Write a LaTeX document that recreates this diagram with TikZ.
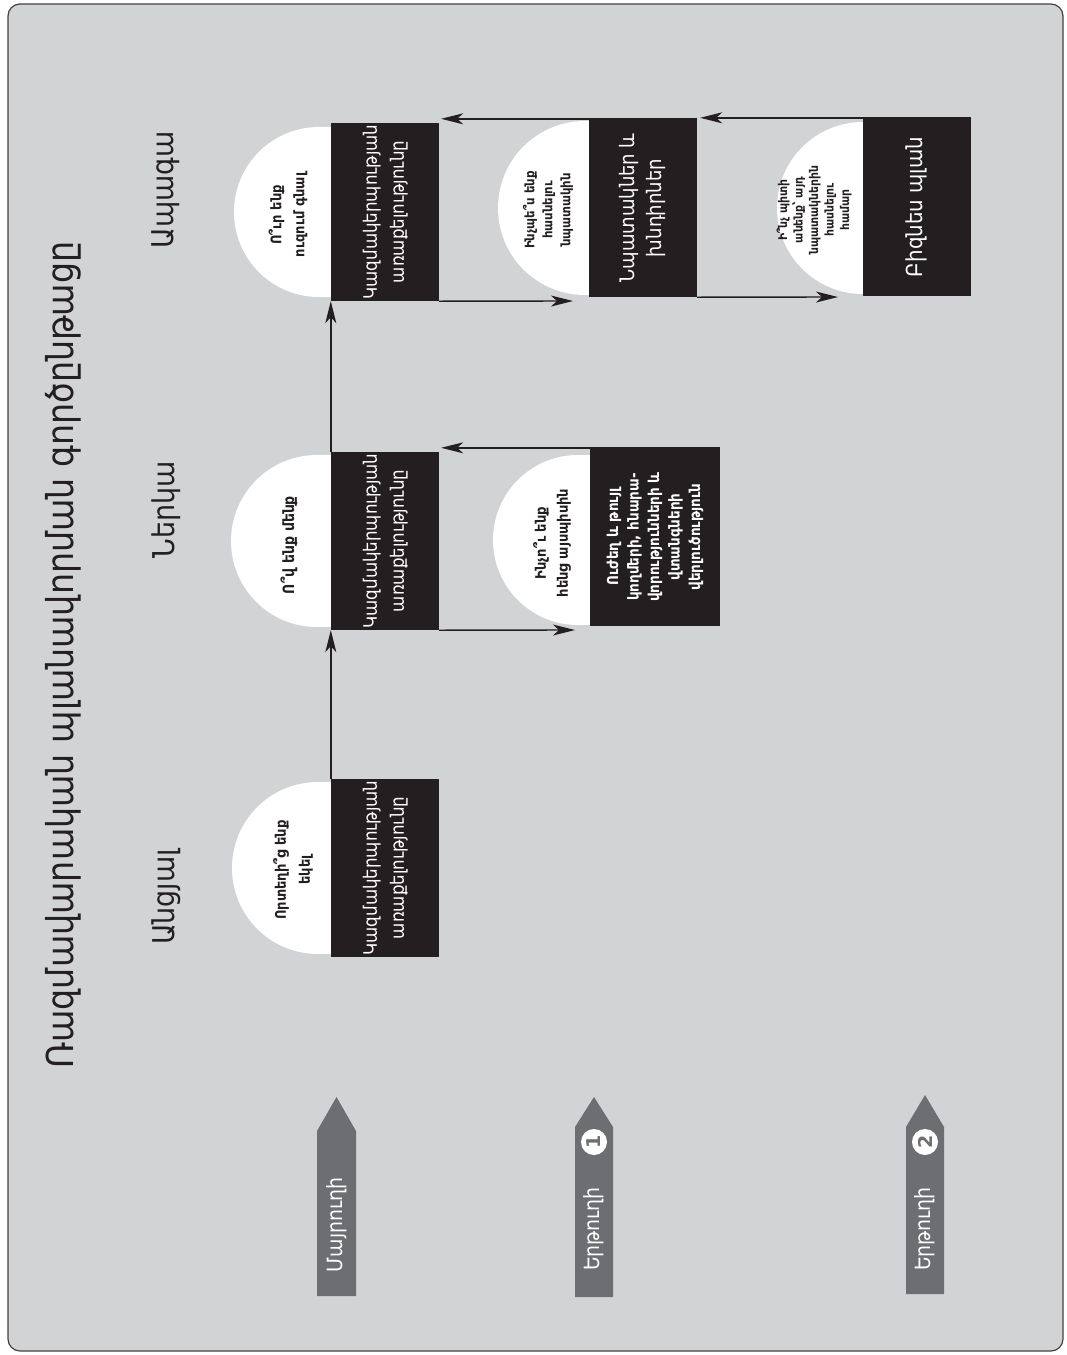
\documentclass[tikz,border=0pt]{standalone}
\usepackage{fontspec}
\setmainfont{DejaVu Sans Condensed}
\newfontfamily\widefont{DejaVu Sans}
\usepackage{graphicx}
\usetikzlibrary{arrows.meta,calc}

\definecolor{panel}{HTML}{D1D3D4}
\definecolor{ink}{HTML}{231F20}
\definecolor{tagfill}{HTML}{6D6E71}

% text turned a quarter turn, several lines centred
\newcommand\vtext[1]{\rotatebox{90}{\begin{tabular}{@{}c@{}}#1\end{tabular}}}

\begin{document}
\begin{tikzpicture}[x=1pt,y=-1pt,
  blackbox/.style={fill=ink, text=white, minimum width=108pt, minimum height=178pt,
    inner sep=0pt, font=\fontsize{18.5}{27}\selectfont},
  qtext/.style={text=ink, inner sep=0pt, rotate=90, align=center},
  flow/.style={draw=ink, line width=1.4pt, -{Stealth[length=22pt,width=11pt,inset=6pt]}},
  heading/.style={text=ink, rotate=90, inner sep=0pt, font=\fontsize{30}{34}\selectfont},
  tagtext/.style={text=white, rotate=90, inner sep=0pt, font=\fontsize{21}{24}\selectfont},
  numdisc/.style={circle, fill=white, text=tagfill, inner sep=0pt, minimum size=26pt,
    rotate=90, font=\widefont\bfseries\fontsize{19}{19}\selectfont},
  whiteback/.style={fill=white}]
\useasboundingbox (0,0) rectangle (1067,1355);

% panel
\draw[fill=panel, draw=ink!85, line width=1.2pt, rounded corners=12pt] (8,4) rectangle (1063,1351);

% title
\node[text=ink, rotate=90, inner sep=0pt, font=\fontsize{37}{40}\selectfont] (title) at (63,655)
  {Ռազմավարական պլանավորման գործընթացը};

% column headings
\node[heading] (hfut) at (166,190) {Ապագա};
\node[heading] (hnow) at (166,510) {Ներկա};
\node[heading] (hpast) at (166,897) {Անցյալ};

% white half-discs behind the boxes
\fill[whiteback] (318,868) circle[radius=86];
\fill[whiteback] (318,782) rectangle (336,954);
\fill[whiteback] (317,541) circle[radius=86];
\fill[whiteback] (317,455) rectangle (336,627);
\fill[whiteback] (578,540) circle[radius=85];
\fill[whiteback] (578,455) rectangle (595,625);
\fill[whiteback] (319,212) circle[radius=85];
\fill[whiteback] (319,127) rectangle (336,297);
\fill[whiteback] (585,208) circle[radius=87];
\fill[whiteback] (585,121) rectangle (594,295);
\fill[whiteback] (863,208) circle[radius=86];
\fill[whiteback] (863,122) rectangle (868,294);

% black boxes
\node[blackbox] (bPast) at (385,868) {\vtext{Կազմակերպության\\առաքելությունը}};
\node[blackbox] (bNow1) at (385,541) {\vtext{Կազմակերպության\\առաքելությունը}};
\node[blackbox, minimum width=130pt, font=\bfseries\fontsize{15}{20.5}\selectfont] (bNow2) at (655,537)
  {\vtext{Ուժեղ և թույլ\\կողմերի, հնարա-\\վորությունների և\\վտանգների\\վերլուծություն}};
\node[blackbox] (bFut1) at (385,212) {\vtext{Կազմակերպության\\առաքելությունը}};
\node[blackbox, font=\fontsize{20}{27}\selectfont] (bFut2) at (643,208) {\vtext{Նպատակներ և\\խնդիրներ}};
\node[blackbox, font=\fontsize{22}{27}\selectfont] (bFut3) at (917,207) {\vtext{Բիզնես պլան}};

% questions in the half-discs
\node[qtext, font=\bfseries\fontsize{14.5}{24}\selectfont] (qPast) at (293,870) {Որտեղի՞ց ենք\\եկել};
\node[qtext, font=\bfseries\fontsize{15.5}{24}\selectfont] (qNow1) at (289,545) {Ո՞վ ենք մենք};
\node[qtext, font=\bfseries\fontsize{14.5}{22}\selectfont] (qNow2) at (552,543) {Ինչո՞ւ ենք\\հենց այսպիսին};
\node[qtext, font=\bfseries\fontsize{14.5}{23}\selectfont] (qFut1) at (288,215) {Ո՞ւր ենք\\ուզում գնալ};
\node[qtext, font=\bfseries\fontsize{13}{18}\selectfont] (qFut2) at (548,210) {Ինչպե՞ս ենք\\հասնելու\\նպատակին};
\node[qtext, font=\bfseries\fontsize{12}{15.5}\selectfont] (qFut3) at (814,210) {Ի՞նչ պիտի\\անենք՝ այդ\\նպատակներին\\հասնելու\\համար};

% connectors
\coordinate (tipNow) at (575,630);
\coordinate (tipFut1) at (573,301);
\coordinate (tipFut2) at (838,297);
\draw[flow] (bPast.north west) -- (bNow1.south west);
\draw[flow] (bNow1.north west) -- (bFut1.south west);
\draw[flow] (bNow1.south east) -- (tipNow);
\draw[flow] (bNow2.north east) -- ($(bNow2.north east -| bNow1.east)+(2,0)$);
\draw[flow] (bFut1.south east) -- (tipFut1);
\draw[flow] (bFut2.south east) -- (tipFut2);
\draw[flow] (bFut3.north east) -- ($(bFut3.north east -| bFut2.east)+(3,0)$);
\draw[flow] (bFut2.north east) -- ($(bFut2.north east -| bFut1.east)+(2,0)$);

% route tags
\fill[tagfill] (317,1296) -- (317,1131) -- (336.5,1097) -- (356,1131) -- (356,1296) -- cycle;
\node[tagtext] (tag0) at (336.5,1225) {Մայրուղի};
\fill[tagfill] (575,1297) -- (575,1127) -- (594,1097) -- (613,1127) -- (613,1297) -- cycle;
\node[numdisc] (n1) at (594,1142) {1};
\node[tagtext] (tag1) at (594,1229) {Երթուղի};
\fill[tagfill] (906,1294) -- (906,1127) -- (925,1095) -- (944,1127) -- (944,1294) -- cycle;
\node[numdisc] (n2) at (925,1142) {2};
\node[tagtext] (tag2) at (925,1229) {Երթուղի};
\end{tikzpicture}
\end{document}
